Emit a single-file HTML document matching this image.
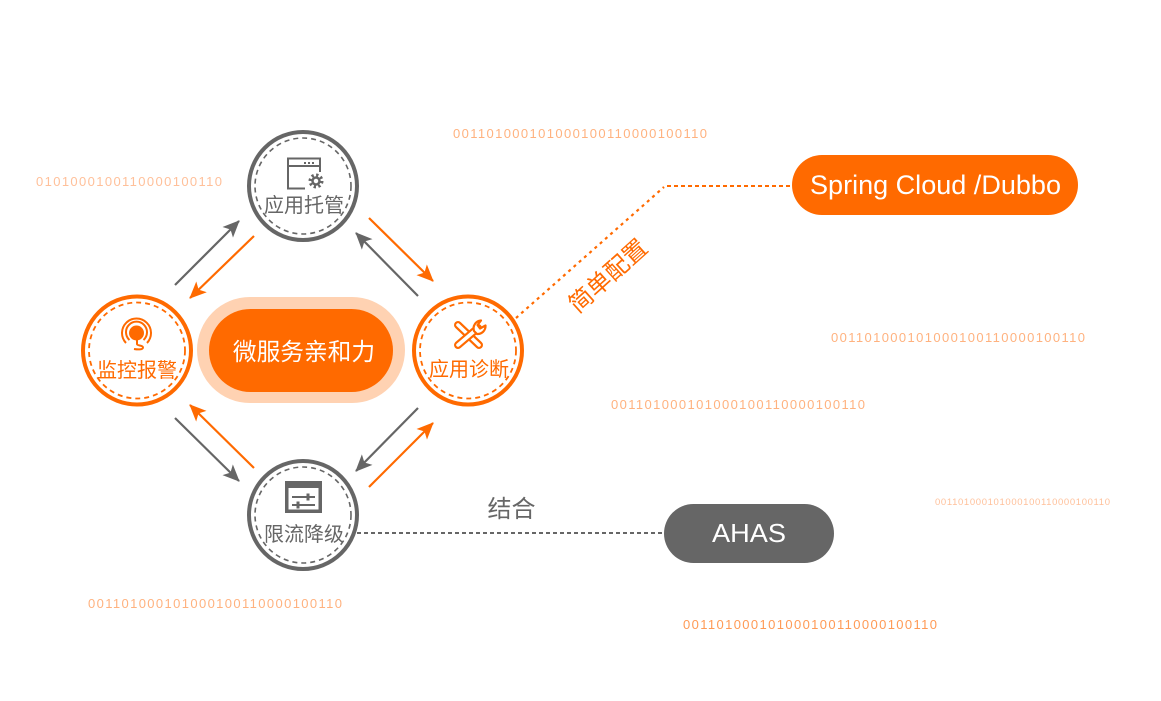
<!DOCTYPE html>
<html><head><meta charset="utf-8"><style>
html,body{margin:0;padding:0;background:#fff}
svg{display:block}
text{font-family:"Liberation Sans","Noto Sans CJK SC",sans-serif}
</style></head><body>
<svg width="1161" height="701" viewBox="0 0 1161 701" xmlns="http://www.w3.org/2000/svg">
<defs>
<marker id="ag" viewBox="0 0 17 15" markerWidth="17" markerHeight="15" refX="16" refY="7.5" orient="auto" markerUnits="userSpaceOnUse"><path d="M0 0L17 7.5L0 15L4 7.5Z" fill="#666"/></marker>
<marker id="ao" viewBox="0 0 17 15" markerWidth="17" markerHeight="15" refX="16" refY="7.5" orient="auto" markerUnits="userSpaceOnUse"><path d="M0 0L17 7.5L0 15L4 7.5Z" fill="#ff6a00"/></marker>
</defs>
<!-- binary -->
<g font-size="13" fill="#ffb27f">
<text x="453" y="138" textLength="254" lengthAdjust="spacing">001101000101000100110000100110</text>
<text x="36" y="186" textLength="186" fill="#ffc09a">0101000100110000100110</text>
<text x="831" y="342" textLength="254">001101000101000100110000100110</text>
<text x="611" y="409" textLength="254">001101000101000100110000100110</text>
<text x="88" y="608" textLength="254">001101000101000100110000100110</text>
<text x="683" y="629" textLength="254" fill="#ff9a55">001101000101000100110000100110</text>
<text x="935" y="505" textLength="175" font-size="9.5" fill="#ffc09a">001101000101000100110000100110</text>
</g>
<!-- centre pill -->
<rect x="197" y="297" width="208" height="106" rx="53" fill="#ffd2b2"/>
<rect x="209" y="309" width="184" height="83" rx="41.5" fill="#ff6a00"/>
<text x="304" y="360" font-size="23.7" fill="#fff" text-anchor="middle">微服务亲和力</text>
<!-- arrows -->
<g stroke-width="2.2" fill="none">
<line x1="175" y1="285" x2="239" y2="221" stroke="#666" marker-end="url(#ag)"/>
<line x1="254" y1="236" x2="190" y2="298" stroke="#ff6a00" marker-end="url(#ao)"/>
<line x1="369" y1="218" x2="433" y2="281" stroke="#ff6a00" marker-end="url(#ao)"/>
<line x1="418" y1="296" x2="356" y2="233" stroke="#666" marker-end="url(#ag)"/>
<line x1="254" y1="468" x2="190" y2="405" stroke="#ff6a00" marker-end="url(#ao)"/>
<line x1="175" y1="418" x2="239" y2="481" stroke="#666" marker-end="url(#ag)"/>
<line x1="418" y1="408" x2="356" y2="471" stroke="#666" marker-end="url(#ag)"/>
<line x1="369" y1="487" x2="433" y2="423" stroke="#ff6a00" marker-end="url(#ao)"/>
</g>
<!-- connectors -->
<path d="M516 318L664 187" stroke="#ff6a00" stroke-width="2.2" stroke-dasharray="3 4" fill="none"/>
<path d="M667 186H792" stroke="#ff6a00" stroke-width="2" stroke-dasharray="4 3" fill="none"/>
<path d="M357 533H664" stroke="#666" stroke-width="2" stroke-dasharray="4 3" fill="none"/>
<text x="511.5" y="517" font-size="24" fill="#666" text-anchor="middle">结合</text>
<text x="0" y="0" font-size="24" fill="#ff6a00" text-anchor="middle" transform="translate(613.5 282) rotate(-42)">简单配置</text>
<!-- pills -->
<rect x="792" y="155" width="286" height="60" rx="30" fill="#ff6a00"/>
<text x="810" y="194" font-size="27" fill="#fff" textLength="251" lengthAdjust="spacingAndGlyphs">Spring Cloud /Dubbo</text>
<rect x="664" y="504" width="170" height="59" rx="29.5" fill="#666"/>
<text x="712" y="542" font-size="26" fill="#fff" textLength="74" lengthAdjust="spacingAndGlyphs">AHAS</text>
<!-- circles -->
<g fill="#fff">
<circle cx="303" cy="186" r="54" stroke="#666" stroke-width="4"/>
<circle cx="303" cy="186" r="48" stroke="#666" stroke-width="1.6" stroke-dasharray="5 4"/>
<circle cx="137" cy="350.5" r="54" stroke="#ff6a00" stroke-width="4"/>
<circle cx="137" cy="350.5" r="48" stroke="#ff6a00" stroke-width="1.8" stroke-dasharray="5 4"/>
<circle cx="468" cy="350.5" r="54" stroke="#ff6a00" stroke-width="4"/>
<circle cx="468" cy="350.5" r="48" stroke="#ff6a00" stroke-width="1.8" stroke-dasharray="5 4"/>
<circle cx="303" cy="515" r="54" stroke="#666" stroke-width="4"/>
<circle cx="303" cy="515" r="48" stroke="#666" stroke-width="1.6" stroke-dasharray="5 4"/>
</g>
<g font-size="20" text-anchor="middle">
<text x="304" y="212" fill="#666">应用托管</text>
<text x="137" y="377" fill="#ff6a00">监控报警</text>
<text x="469" y="376" fill="#ff6a00">应用诊断</text>
<text x="304" y="541" fill="#666">限流降级</text>
</g>
<!-- icon: window + gear -->
<g fill="none" stroke="#666" stroke-width="2">
<path d="M320 172V158.500H288V188.500H305"/>
<path d="M288 166H320"/>
<circle cx="316" cy="181" r="3.500" stroke-width="2.500"/>
<circle cx="316" cy="181" r="6" stroke-width="3" stroke-dasharray="2.300 2.400"/>
</g>
<g fill="#666"><rect x="304" y="162" width="2" height="2"/><rect x="308" y="162" width="2" height="2"/><rect x="312" y="162" width="2" height="2"/></g>
<!-- icon: alarm -->
<g fill="none" stroke="#ff6a00" stroke-width="2">
<path d="M126 343A14.500 14.500 0 1 1 147 343"/>
<path d="M129.500 340A10.500 10.500 0 1 1 143.500 340"/>
<path d="M137 339V344C137 346 143 345 143 347.500C143 350 137 349.500 134 349"/>
</g>
<circle cx="136.500" cy="333" r="7.500" fill="#ff6a00"/>
<!-- icon: tools -->
<g fill="none" stroke-linecap="round">
<line x1="458" y1="325" x2="479" y2="345" stroke="#ff6a00" stroke-width="8"/>
<line x1="458" y1="325" x2="479" y2="345" stroke="#fff" stroke-width="3.600"/>
<line x1="458" y1="345" x2="478" y2="328" stroke="#ff6a00" stroke-width="8"/>
<line x1="458" y1="345" x2="478" y2="328" stroke="#fff" stroke-width="3.600"/>
<path d="M474 331A8 8 0 0 1 481 320.500L477.500 325L480 328.500L485.500 325.500A8 8 0 0 1 477 334Z" fill="#fff" stroke="#ff6a00" stroke-width="2.200" stroke-linejoin="round"/>
</g>
<!-- icon: sliders -->
<path fill-rule="evenodd" fill="#666" d="M285 481H322V513H285ZM288.500 488V509.500H318.500V488Z"/>
<g stroke="#666" fill="none">
<path d="M292 497H315M292 505H315" stroke-width="2"/><path d="M308 493.500V500.500M298 501.500V508.500" stroke-width="3"/>
</g>
</svg>
</body></html>
